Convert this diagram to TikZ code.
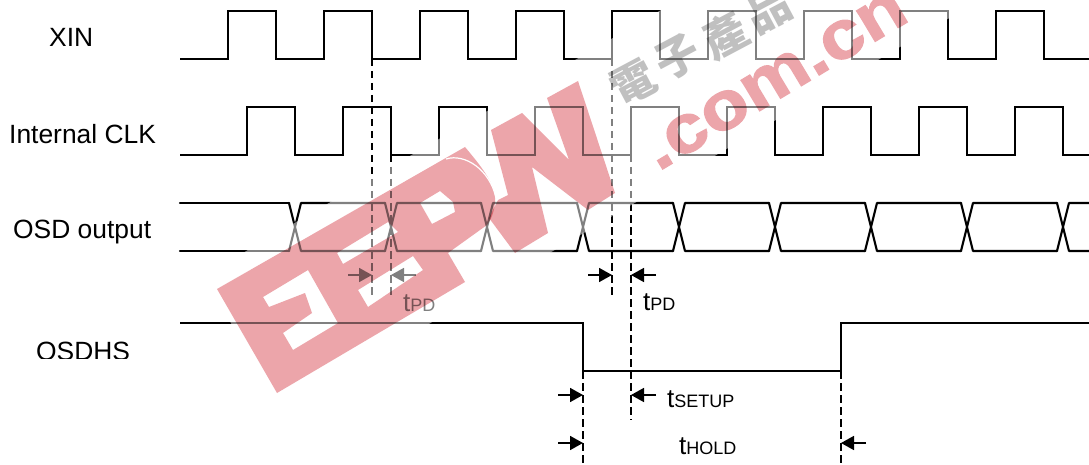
\documentclass[tikz,border=0pt]{standalone}
\usepackage{fontspec}
\setmainfont{Liberation Sans}
\newfontfamily\cjkfont{Noto Sans CJK TC}
\newfontfamily\wmfont[FakeBold=1.6]{Liberation Sans Bold}
\usetikzlibrary{arrows.meta}
\definecolor{wmpink}{RGB}{236,165,170}
\definecolor{wmgrey}{RGB}{192,192,192}
\newcommand{\tlabel}[1]{{\fontsize{26}{30}\selectfont t}{\fontsize{18}{22}\selectfont #1}}
\tikzset{
  sig/.style={line width=2.1pt,line join=miter,black},
  xedge/.style={line width=2.1pt,line cap=round,black},
  dashline/.style={line width=2pt,dash pattern=on 7.5pt off 4.5pt,black},
  dimarrow/.style={line width=1.7pt,-{Triangle[length=13pt,width=14pt]},black},
  siglabel/.style={anchor=base west,inner sep=0pt,font=\fontsize{26.4}{30}\selectfont},
  timelabel/.style={anchor=base west,inner sep=0pt},
  wmtext/.style={inner sep=0pt,wmpink,font=\wmfont\fontsize{68}{72}\selectfont},
  wmchar/.style={inner sep=0pt,wmgrey,rotate=28,font=\cjkfont\bfseries\fontsize{44}{48}\selectfont},
}
\begin{document}
\begin{tikzpicture}[x=1pt,y=-1pt]
\useasboundingbox (0,0) rectangle (1089,465);
\fill[white] (0,0) rectangle (1089,465);
\clip (0,0) rectangle (1089,465);

% signal names
\node[siglabel] (xin) at (49,47) {XIN};
\node[siglabel] (clk) at (9,143.5) {Internal CLK};
\node[siglabel] (osd) at (13,238.5) {OSD output};
\begin{scope}
  \clip (0,330) rectangle (170,358);
  \node[siglabel] (hs) at (36,360) {OSDHS};
\end{scope}

% waveforms
\draw[sig] (180,59) foreach \x in {228,324,420,516,612,708,804,900,996} { -- (\x,59) -- (\x,11) -- ({\x+48},11) -- ({\x+48},59) } -- (1089,59);
\draw[sig] (180,155) foreach \x in {247,343,439,535,631,727,823,919,1015} { -- (\x,155) -- (\x,107) -- ({\x+48},107) -- ({\x+48},155) } -- (1089,155);
\draw[xedge] (180,203) -- (289,203) (180,251) -- (289,251);
\foreach \c in {295,391,487,583,679,775,871,967,1063} {
  \draw[xedge] ({\c-6},203) -- ({\c+6},251) ({\c-6},251) -- ({\c+6},203)
               ({\c+6},203) -- ({\c+90},203) ({\c+6},251) -- ({\c+90},251);
}
\draw[sig] (180,323) -- (583,323) -- (583,371) -- (841,371) -- (841,323) -- (1089,323);

% named guide coordinates
\coordinate (a1) at (372,59);  \coordinate (a2) at (372,296);
\coordinate (b1) at (391,155); \coordinate (b2) at (391,299);
\coordinate (c1) at (612,59);  \coordinate (c2) at (612,296);
\coordinate (d1) at (631,155); \coordinate (d2) at (631,420);
\coordinate (e1) at (583,371); \coordinate (e2) at (583,465);
\coordinate (f1) at (841,371); \coordinate (f2) at (841,465);
\draw[dashline] (a1) -- (a2);
\draw[dashline] (b1) -- (b2);
\draw[dashline] (c1) -- (c2);
\draw[dashline] (d1) -- (d2);
\draw[dashline] (e1) -- (e2);
\draw[dashline] (f1) -- (f2);

% dimension arrows
\coordinate (p1s) at (348,275); \coordinate (p1e) at (372,275);
\coordinate (p2s) at (416,275); \coordinate (p2e) at (391,275);
\coordinate (p3s) at (588,275); \coordinate (p3e) at (612,275);
\coordinate (p4s) at (656,275); \coordinate (p4e) at (631,275);
\coordinate (s1s) at (558,395); \coordinate (s1e) at (583,395);
\coordinate (s2s) at (656,395); \coordinate (s2e) at (631,395);
\coordinate (h1s) at (558,443); \coordinate (h1e) at (583,443);
\coordinate (h2s) at (866,443); \coordinate (h2e) at (841,443);
\draw[dimarrow] (p1s) -- (p1e);
\draw[dimarrow] (p2s) -- (p2e);
\draw[dimarrow] (p3s) -- (p3e);
\draw[dimarrow] (p4s) -- (p4e);
\draw[dimarrow] (s1s) -- (s1e);
\draw[dimarrow] (s2s) -- (s2e);
\draw[dimarrow] (h1s) -- (h1e);
\draw[dimarrow] (h2s) -- (h2e);

% timing labels
\node[timelabel] (tpd1) at (403,311) {\tlabel{PD}};
\node[timelabel] (tpd2) at (643,310) {\tlabel{PD}};
\node[timelabel] (tsu) at (667,407) {\tlabel{SETUP}};
\node[timelabel] (tho) at (679,454) {\tlabel{HOLD}};

% watermark: haze that greys the lines beneath it
\fill[white,opacity=0.5] (680,-1) -- (980,0) -- (405,338) -- (275,405) -- (205,275) -- cycle;

% watermark: letters
\begin{scope}[blend mode=multiply]
  \fill[wmpink,even odd rule]
    (217,289) -- (465,147) .. controls (480,165) and (497,185) .. (495,203)
    .. controls (494,212) and (491,220) .. (487,225) -- (448,253) -- (465,282) -- (277,393) -- cycle
    (263,297) -- (308,270) -- (338,323) -- (293,350) -- (283,333) -- (312,313) -- (305,293) -- (269,307) -- cycle
    (337,253) -- (388,222) -- (398,232) -- (343,264) -- cycle
    (358,290) -- (413,256) -- (423,270) -- (368,307) -- cycle
    (420,203) -- (440,191) -- (453,202) -- (455,212) -- (432,224) -- cycle;
  \fill[wmpink]
    (491,130) -- (522,113) -- (569,160) -- (547,98) -- (578,81) -- (615,193) -- (588,210)
    -- (532,167) -- (548,233) -- (515,253) -- (489,218) -- (498,200) -- (508,195) -- cycle;
  \begin{scope}[transparency group]
    \node[wmtext,rotate=31,xscale=1.15,anchor=base west] (wmcn) at (658,172) {.com.cn};
  \end{scope}
  \node[wmchar] (w1) at (633,83) {電};
  \node[wmchar] (w2) at (678,57) {子};
  \node[wmchar] (w3) at (725,35) {產};
  \node[wmchar] (w4) at (768,10) {品};
\end{scope}
\draw[white,line width=1.2pt] (446,159) .. controls (465,153) and (490,170) .. (496,198);
\end{tikzpicture}
\end{document}
